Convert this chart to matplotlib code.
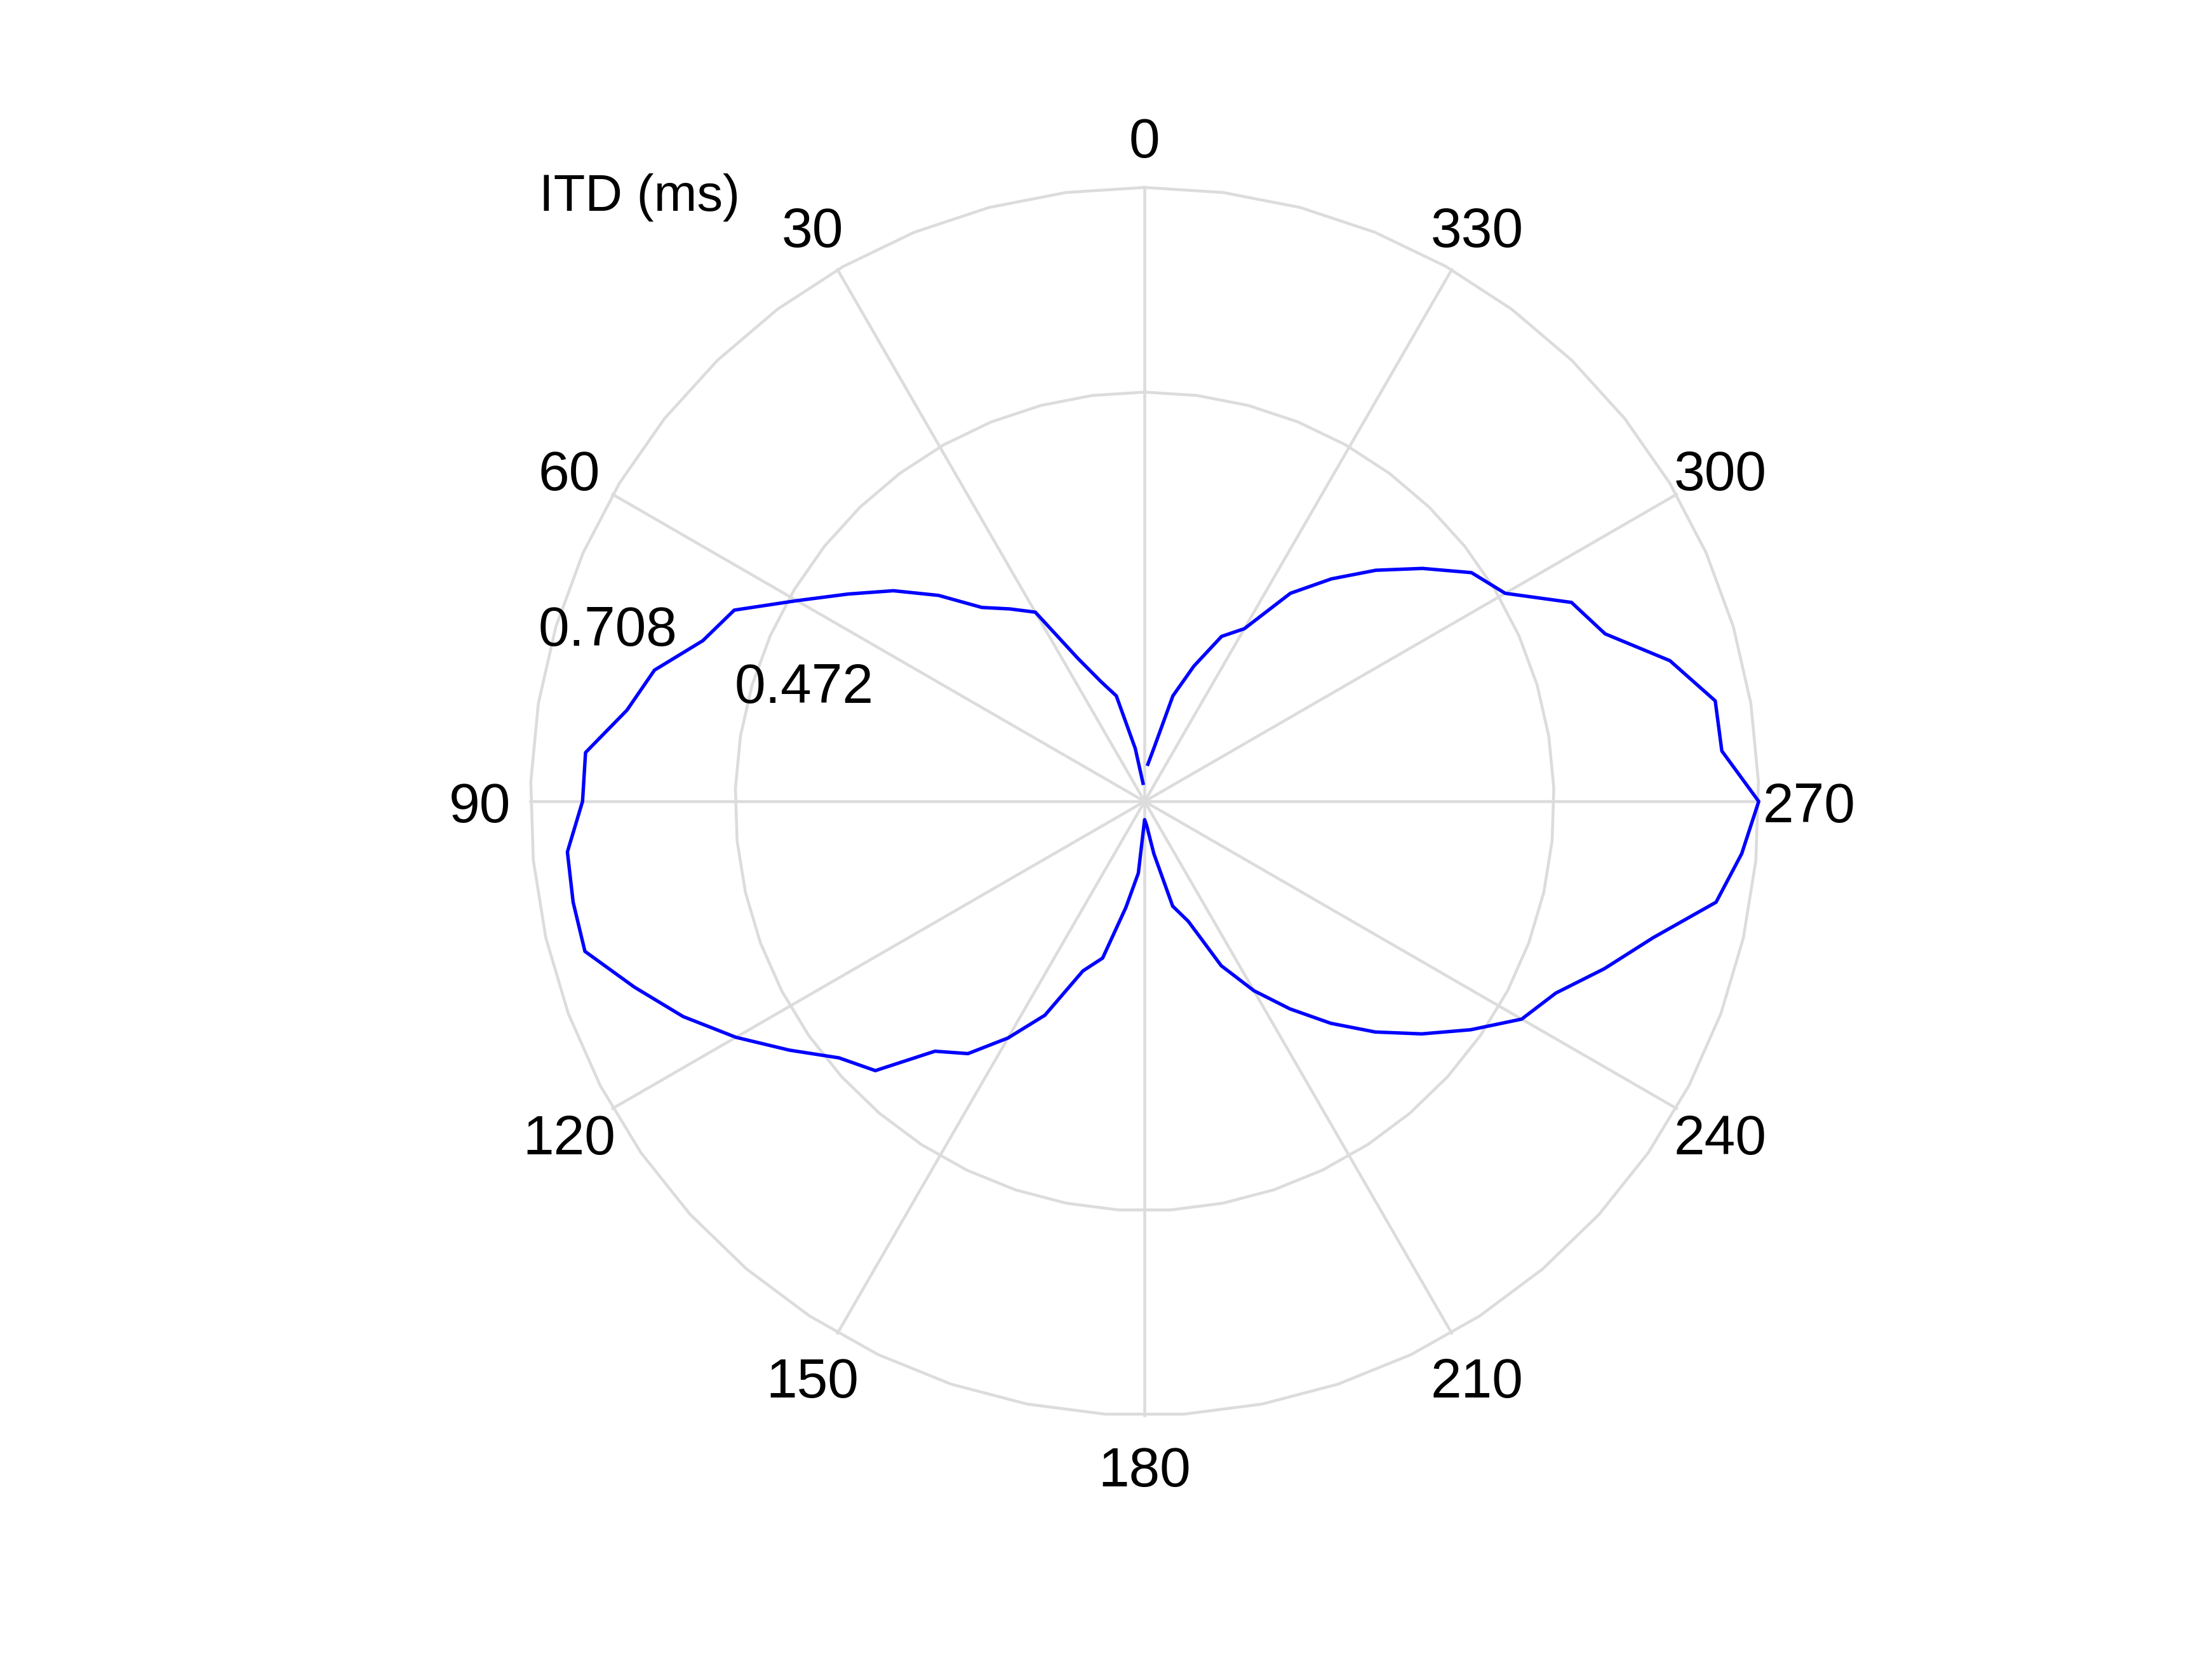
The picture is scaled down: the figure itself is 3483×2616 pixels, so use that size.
import numpy as np
import matplotlib
matplotlib.use('Agg')
import matplotlib.pyplot as plt

plt.rcParams['font.family'] = ['Liberation Sans', 'DejaVu Sans']

# Azimuth (degrees) and interaural time difference (ms)
azimuth = list(range(5, 360, 5))
itd = [0.021, 0.062, 0.126, 0.147, 0.182, 0.252, 0.271, 0.292, 0.336,
       0.378, 0.417, 0.463, 0.522, 0.542, 0.585, 0.606, 0.647, 0.648,
       0.668, 0.669, 0.668, 0.626, 0.587, 0.544, 0.500, 0.460, 0.439,
       0.376, 0.355, 0.315, 0.272, 0.208, 0.187, 0.124, 0.083, 0.021,
       0.028, 0.061, 0.125, 0.147, 0.209, 0.252, 0.292, 0.334, 0.376,
       0.417, 0.459, 0.502, 0.523, 0.564, 0.607, 0.669, 0.691, 0.708,
       0.668, 0.668, 0.627, 0.565, 0.543, 0.480, 0.460, 0.418, 0.377,
       0.335, 0.293, 0.230, 0.210, 0.166, 0.126, 0.063, 0.043]

rings = [0.472, 0.708]
ring_labels = ['0.472', '0.708']
spokes = list(range(0, 360, 30))
spoke_labels = [str(a) for a in spokes]
rmax = 0.708

grid_color = '#dcdcdc'

fig = plt.figure(figsize=(11.61, 8.7233), dpi=300)
ax = fig.add_axes([0.23982, 0.14780, 0.55527, 0.73901], projection='polar')
ax.set_theta_zero_location('N')
ax.set_theta_direction(1)
ax.set_ylim(0, rmax)
ax.grid(False)
ax.set_xticks([])
ax.set_yticks([])
ax.spines['polar'].set_visible(False)
ax.patch.set_visible(False)

# Grid circles drawn as 50-point polygons
t = np.linspace(0, 2 * np.pi, 50)
for r in rings:
    ax.plot(t, np.full_like(t, r), color=grid_color, lw=1.1, clip_on=False,
            zorder=1)

# Spokes
for a in spokes:
    th = np.deg2rad(a)
    ax.plot([th, th], [0, rmax], color=grid_color, lw=1.1, clip_on=False,
            zorder=1)

# Angle labels
for a, lab in zip(spokes, spoke_labels):
    ax.text(np.deg2rad(a), rmax * 1.082, lab, ha='center',
            va='center_baseline', fontsize=21)

# Radial labels
for r, lab in zip(rings, ring_labels):
    ax.text(np.deg2rad(73.8), r + 0.02, lab, ha='left',
            va='center_baseline', fontsize=21)

# Data
ax.plot(np.deg2rad(azimuth), itd, color='#0000ff', lw=1.3, clip_on=False,
        zorder=3)

fig.text(0.2437, 0.8731, 'ITD (ms)', ha='left', va='baseline', fontsize=19.5)

fig.savefig('out.png', dpi=300)
